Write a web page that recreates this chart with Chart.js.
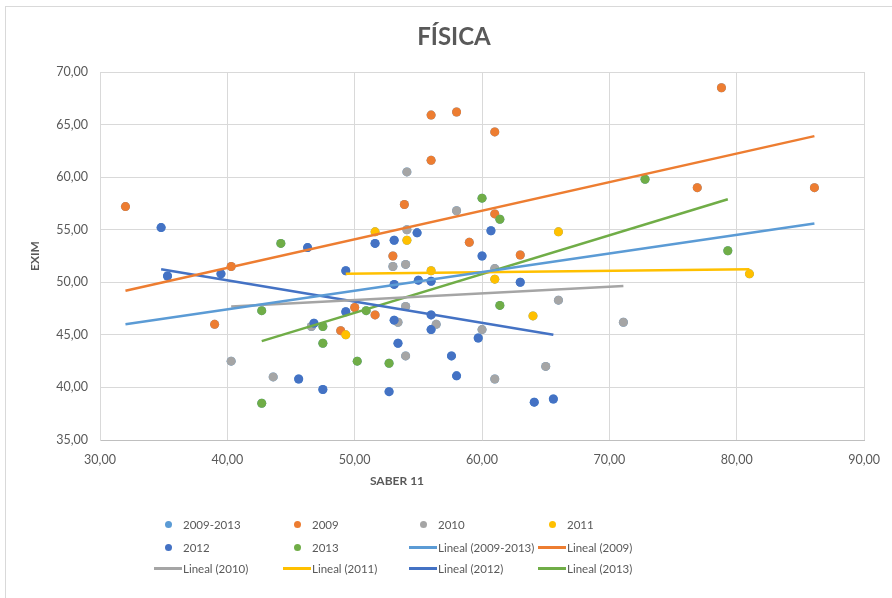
<!DOCTYPE html>
<html>
<head>
<meta charset="utf-8">
<script src="https://cdn.jsdelivr.net/npm/chart.js@4.4.0/dist/chart.umd.min.js"></script>
<style>
  body { margin: 0; background: #fff; }
  #wrap { position: relative; width: 892px; height: 598px; overflow: hidden; font-family: Lato, sans-serif; }
  #frame { position: absolute; left: 5px; top: 6px; width: 1000px; height: 1000px; border: 1px solid #d9d9d9; }
  canvas { position: absolute; left: 0; top: 0; }
  .item { position: absolute; display: flex; align-items: center; height: 16px; font-size: 11.5px; color: #595959; white-space: nowrap; }
  .sym { width: 30px; height: 16px; display: flex; justify-content: center; align-items: center; }
  .dot { width: 7px; height: 7px; border-radius: 50%; }
  .bar { width: 28px; height: 3px; }
</style>
</head>
<body>
<div id="wrap">
  <div id="frame"></div>
  <canvas id="chart" width="892" height="598"></canvas>
  <div id="legend"></div>
</div>
<script>
const chartTitle = 'FÍSICA';
const xTitle = 'SABER 11';
const yTitle = 'EXIM';

const x2009 = [32.0, 39.0, 40.3, 48.9, 50.0, 51.6, 53.0, 53.9, 56.0, 56.0, 58.0, 59.0, 61.0, 61.0, 63.0, 76.9, 78.8, 86.1];
const y2009 = [57.2, 46.0, 51.5, 45.4, 47.6, 46.9, 52.5, 57.4, 65.9, 61.6, 66.2, 53.8, 64.3, 56.5, 52.6, 59.0, 68.5, 59.0];

const x2010 = [40.3, 43.6, 46.6, 53.0, 53.4, 54.0, 54.0, 54.1, 54.1, 54.0, 56.4, 58.0, 60.0, 61.0, 61.0, 65.0, 66.0, 71.1];
const y2010 = [42.5, 41.0, 45.8, 51.5, 46.2, 51.7, 47.7, 55.0, 60.5, 43.0, 46.0, 56.8, 45.5, 51.3, 40.8, 42.0, 48.3, 46.2];

const x2011 = [49.3, 51.6, 54.1, 56.0, 61.0, 64.0, 66.0, 81.0];
const y2011 = [45.0, 54.8, 54.0, 51.1, 50.3, 46.8, 54.8, 50.8];

const x2012 = [34.8, 35.3, 39.5, 45.6, 46.3, 46.8, 47.5, 49.3, 49.3, 51.6, 52.7, 53.1, 53.1, 53.1, 53.4, 54.9, 55.0, 56.0, 56.0, 56.0, 57.6, 58.0, 59.7, 60.0, 60.7, 63.0, 64.1, 65.6];
const y2012 = [55.2, 50.6, 50.8, 40.8, 53.3, 46.1, 39.8, 51.1, 47.2, 53.7, 39.6, 54.0, 49.8, 46.4, 44.2, 54.7, 50.2, 50.1, 46.9, 45.5, 43.0, 41.1, 44.7, 52.5, 54.9, 50.0, 38.6, 38.9];

const x2013 = [42.7, 42.7, 44.2, 47.5, 47.5, 50.2, 50.9, 52.7, 60.0, 61.4, 61.4, 72.8, 79.3];
const y2013 = [38.5, 47.3, 53.7, 45.8, 44.2, 42.5, 47.3, 42.3, 58.0, 56.0, 47.8, 59.8, 53.0];

// all years together (2009-2013)
const xAll = [].concat(x2009, x2010, x2011, x2012, x2013);
const yAll = [].concat(y2009, y2010, y2011, y2012, y2013);

const seriesNames = ['2009-2013', '2009', '2010', '2011', '2012', '2013'];
const seriesColors = ['#5B9BD5', '#ED7D31', '#A5A5A5', '#FFC000', '#4472C4', '#70AD47'];
const seriesX = [xAll, x2009, x2010, x2011, x2012, x2013];
const seriesY = [yAll, y2009, y2010, y2011, y2012, y2013];

// linear trendlines (start and end of each line)
const trendStartX = [32.0, 32.0, 40.3, 49.3, 34.8, 42.7];
const trendStartY = [46.0, 49.2, 47.7, 50.8, 51.25, 44.4];
const trendEndX = [86.1, 86.1, 71.1, 81.0, 65.6, 79.3];
const trendEndY = [55.6, 63.9, 49.65, 51.25, 45.0, 57.9];

const xTicks = [30, 40, 50, 60, 70, 80, 90];
const yTicks = [35, 40, 45, 50, 55, 60, 65, 70];

const fmt = v => v.toFixed(2).replace('.', ',');

const datasets = [];
seriesNames.forEach((name, i) => {
  datasets.push({
    type: 'line',
    label: 'Lineal (' + name + ')',
    data: [{ x: trendStartX[i], y: trendStartY[i] }, { x: trendEndX[i], y: trendEndY[i] }],
    borderColor: seriesColors[i],
    borderWidth: 2.5,
    pointRadius: 0,
    fill: false,
    order: 0
  });
});
seriesNames.forEach((name, i) => {
  datasets.push({
    type: 'scatter',
    label: name,
    data: seriesX[i].map((x, k) => ({ x: x, y: seriesY[i][k] })),
    backgroundColor: seriesColors[i],
    borderColor: seriesColors[i],
    pointRadius: 4.5,
    pointBorderWidth: 0,
    order: 6 - i
  });
});

const extraText = {
  id: 'extraText',
  afterDraw(chart) {
    const ctx = chart.ctx;
    ctx.save();
    ctx.fillStyle = '#595959';
    ctx.textAlign = 'center';
    ctx.textBaseline = 'middle';
    ctx.font = 'bold 24px Lato';
    ctx.fillText(chartTitle, 454, 37);
    ctx.font = 'bold 12px Lato';
    ctx.fillText(xTitle, chart.chartArea.left + 297, 481);
    ctx.restore();
  }
};

new Chart(document.getElementById('chart'), {
  type: 'scatter',
  data: { datasets: datasets },
  options: {
    responsive: false,
    animation: false,
    devicePixelRatio: 1,
    layout: { padding: { left: 0, top: 72, right: 24, bottom: 108 } },
    plugins: {
      legend: { display: false },
      tooltip: { enabled: false }
    },
    scales: {
      x: {
        type: 'linear',
        min: 30,
        max: 90,
        afterBuildTicks: s => { s.ticks = xTicks.map(v => ({ value: v })); },
        afterFit: s => { s.height = 50; },
        ticks: { callback: v => fmt(v), color: '#595959', font: { family: 'Lato', size: 12.5 }, padding: 12 },
        grid: { color: '#d9d9d9', drawTicks: false },
        border: { color: '#bfbfbf' }
      },
      y: {
        type: 'linear',
        min: 35,
        max: 70,
        afterBuildTicks: s => { s.ticks = yTicks.map(v => ({ value: v })); },
        afterFit: s => { s.width = 100; },
        ticks: { callback: v => fmt(v), color: '#595959', font: { family: 'Lato', size: 12.5 }, padding: 12 },
        grid: { color: '#d9d9d9', drawTicks: false },
        border: { color: '#d9d9d9' },
        title: { display: true, text: yTitle, color: '#595959', font: { family: 'Lato', size: 12, weight: 'bold' }, padding: { top: 28 } }
      }
    }
  },
  plugins: [extraText]
});

// legend laid out as in the reference, 4 columns x 3 rows
const legendLabels = seriesNames.concat(seriesNames.map(n => 'Lineal (' + n + ')'));
const legendColors = seriesColors.concat(seriesColors);
const colTextX = [183, 312, 438, 567];
const rowY = [524, 547, 568];
const legend = document.getElementById('legend');
legendLabels.forEach((label, i) => {
  const col = i % 4, row = Math.floor(i / 4);
  const item = document.createElement('div');
  item.className = 'item';
  item.style.left = (colTextX[col] - 30) + 'px';
  item.style.top = (rowY[row] - 8) + 'px';
  const sym = document.createElement('span');
  sym.className = 'sym';
  const mark = document.createElement('span');
  mark.className = i < 6 ? 'dot' : 'bar';
  mark.style.background = legendColors[i];
  sym.appendChild(mark);
  const txt = document.createElement('span');
  txt.textContent = label;
  item.appendChild(sym);
  item.appendChild(txt);
  legend.appendChild(item);
});
</script>
</body>
</html>
